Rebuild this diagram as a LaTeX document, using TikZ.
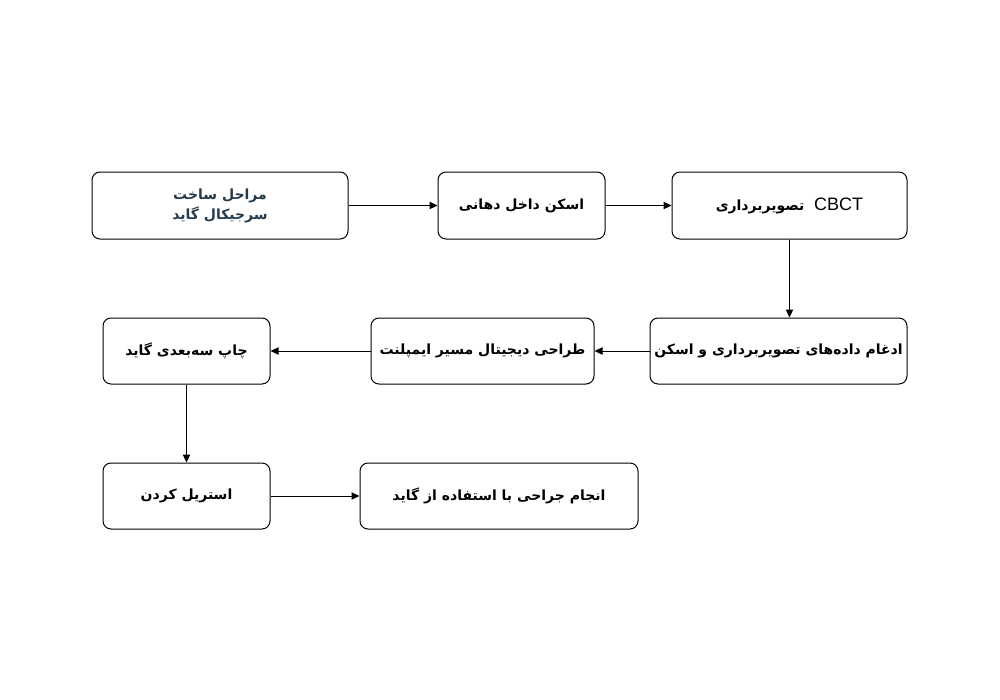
\documentclass[tikz,border=0pt]{standalone}
\usepackage{fontspec}
\setmainfont{Liberation Sans}
\newfontfamily\arabicfont[Script=Arabic]{DejaVu Sans}
\TeXXeTstate=1
\usetikzlibrary{arrows.meta}
\definecolor{titlecol}{HTML}{243B4D}
\begin{document}
\begin{tikzpicture}[x=0.75pt,y=-0.75pt,
  box/.style={draw=black,line width=0.75pt,rounded corners=6pt,fill=white,
    inner sep=0pt,font=\arabicfont\bfseries\fontsize{10.5}{15}\selectfont,align=center},
  conn/.style={draw=black,line width=0.75pt,-{Triangle[length=6pt,width=5.5pt]}}]
\useasboundingbox[fill=white] (0,0) rectangle (1000,700);
\node[box,minimum width=256*0.75pt,minimum height=67*0.75pt,text=titlecol] (b1) at (220,205.5)
  {\beginR مراحل ساخت\endR\\\beginR سرجیکال گاید\endR};
\node[box,minimum width=167*0.75pt,minimum height=67*0.75pt] (b2) at (521.5,205.5)
  {\beginR اسکن داخل دهانی\endR};
\node[box,minimum width=235*0.75pt,minimum height=67*0.75pt] (b3) at (789.5,205.5)
  {\beginR تصویربرداری\endR\hspace{0.7em}{\fontspec{Liberation Sans}\mdseries\fontsize{13.5}{15}\selectfont CBCT}};
\node[box,minimum width=257*0.75pt,minimum height=66*0.75pt] (b4) at (778.5,351)
  {\beginR ادغام داده‌های تصویربرداری و اسکن\endR};
\node[box,minimum width=223*0.75pt,minimum height=66*0.75pt] (b5) at (482.5,351)
  {\beginR طراحی دیجیتال مسیر ایمپلنت\endR};
\node[box,minimum width=167*0.75pt,minimum height=66*0.75pt] (b6) at (186.5,351)
  {\beginR چاپ سه‌بعدی گاید\endR};
\node[box,minimum width=167*0.75pt,minimum height=66*0.75pt] (b7) at (186.5,496)
  {\beginR استریل کردن\endR};
\node[box,minimum width=278*0.75pt,minimum height=66*0.75pt] (b8) at (499,496)
  {\beginR انجام جراحی با استفاده از گاید\endR};
\draw[conn] (b1) -- (b2);
\draw[conn] (b2) -- (b3);
\draw[conn] (b3) -- (b3.south |- b4.north);
\draw[conn] (b4) -- (b5);
\draw[conn] (b5) -- (b6);
\draw[conn] (b6) -- (b7);
\draw[conn] (b7) -- (b8);
\end{tikzpicture}
\end{document}
